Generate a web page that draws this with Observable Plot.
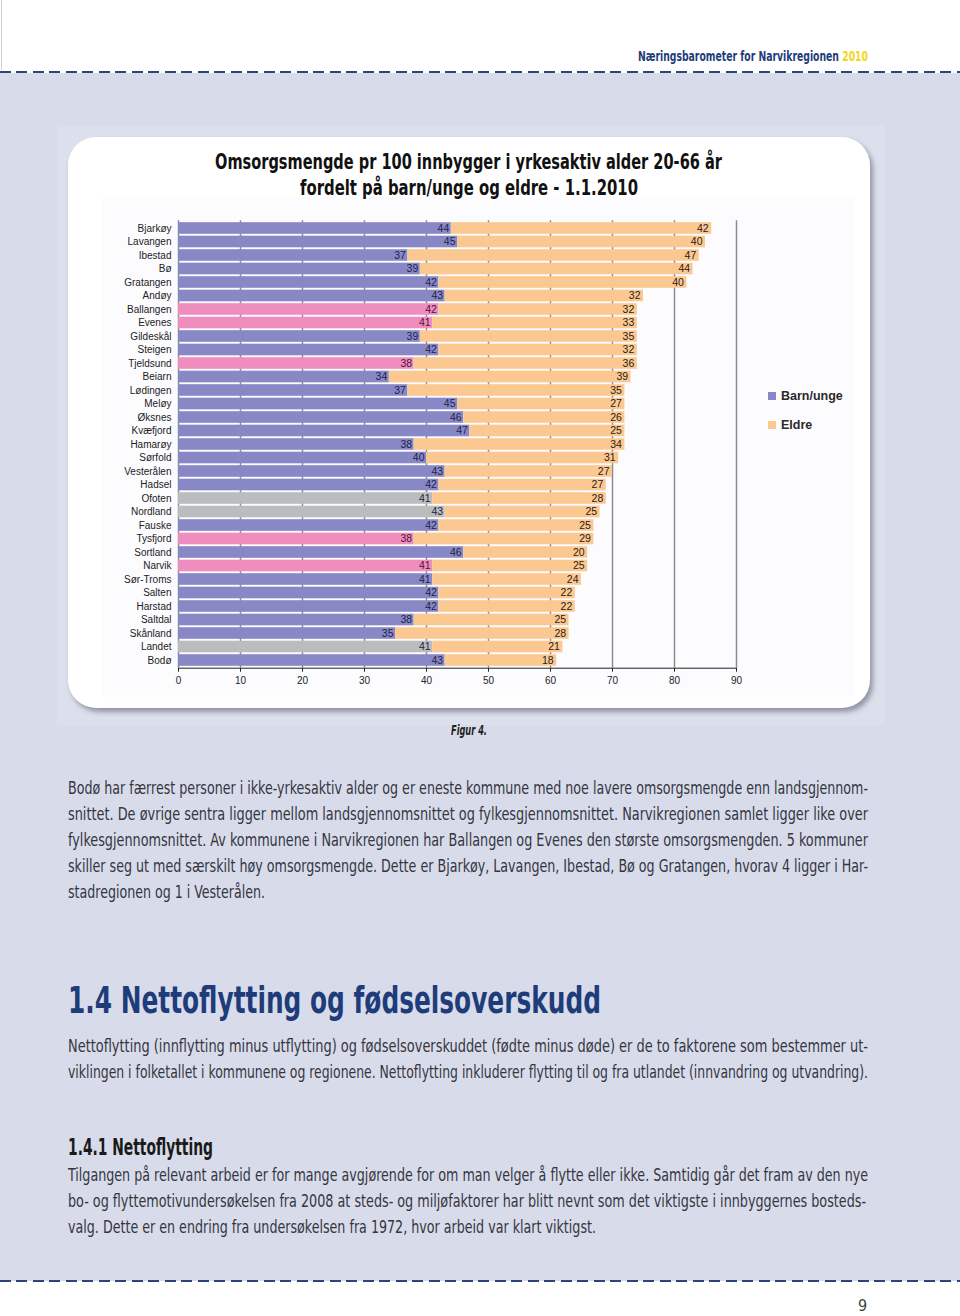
<!DOCTYPE html>
<html><head><meta charset="utf-8">
<script src="https://cdn.jsdelivr.net/npm/d3@7"></script>
<script src="https://cdn.jsdelivr.net/npm/@observablehq/plot@0.6"></script>
<style>
html,body{margin:0;padding:0}
body{width:960px;height:1316px;position:relative;background:#fff;overflow:hidden;font-family:"Liberation Sans Narrow","DejaVu Sans Condensed","Liberation Sans",sans-serif}
.t{position:absolute;white-space:nowrap;transform-origin:0 0;line-height:1}
.band{position:absolute;left:0;width:960px;top:73px;height:1208px;background:#d8dcea}
.dash{position:absolute;left:0;width:960px;height:2px;background:repeating-linear-gradient(to right,#2b4676 0 11px,transparent 11px 16.5px)}
.panel{position:absolute;left:57px;top:125px;width:828px;height:600px;background:#dcdfec}
.card{position:absolute;left:68px;top:137px;width:802px;height:571px;background:#fff;border-radius:28px;box-shadow:3px 4px 5px rgba(60,60,80,0.45)}
.plotarea{position:absolute;left:101px;top:197px;width:754px;height:500px;background:#fcfcfe}
#chart{position:absolute;left:68px;top:195px}
.leg{position:absolute;font-family:"Liberation Sans",Arial,sans-serif;font-weight:bold;font-size:12.5px;color:#2a2a2a;line-height:1}
.sw{position:absolute;width:8px;height:8px}
.p{font-size:17px;color:#35353f}
</style></head><body>
<div style="position:absolute;left:1px;top:0;width:1px;height:70px;background:#d0d0d0"></div>
<div class="t" data-w="230" style="left:638px;top:50px;font-size:13.5px;font-weight:bold;color:#1f3c7a">Næringsbarometer for Narvikregionen <span style="color:#f2d51a">2010</span></div>
<div class="band"></div>
<div class="dash" style="top:71px"></div>
<div class="dash" style="top:1280px"></div>
<div class="panel"></div>
<div class="card"></div>
<div class="plotarea"></div>
<div class="t" data-w="507" style="left:215px;top:151px;font-size:22px;font-weight:bold;color:#111">Omsorgsmengde pr 100 innbygger i yrkesaktiv alder 20-66 år</div>
<div class="t" data-w="338" style="left:300px;top:177px;font-size:22px;font-weight:bold;color:#111">fordelt på barn/unge og eldre - 1.1.2010</div>
<div id="chart"></div>
<div id="legend"></div>
<div class="t" data-w="36" style="left:451px;top:723px;font-size:14px;font-weight:bold;font-style:italic;color:#222">Figur 4.</div>

<div class="t p" data-w="800" style="left:68px;top:780px">Bodø har færrest personer i ikke-yrkesaktiv alder og er eneste kommune med noe lavere omsorgsmengde enn landsgjennom-</div>
<div class="t p" data-w="800" style="left:68px;top:806px">snittet. De øvrige sentra ligger mellom landsgjennomsnittet og fylkesgjennomsnittet. Narvikregionen samlet ligger like over</div>
<div class="t p" data-w="800" style="left:68px;top:832px">fylkesgjennomsnittet. Av kommunene i Narvikregionen har Ballangen og Evenes den største omsorgsmengden. 5 kommuner</div>
<div class="t p" data-w="800" style="left:68px;top:858px">skiller seg ut med særskilt høy omsorgsmengde. Dette er Bjarkøy, Lavangen, Ibestad, Bø og Gratangen, hvorav 4 ligger i Har-</div>
<div class="t p" data-w="197" style="left:68px;top:884px">stadregionen og 1 i Vesterålen.</div>

<div class="t" data-w="533" style="left:68px;top:981px;font-size:38px;font-weight:bold;color:#1f3c7a">1.4 Nettoflytting og fødselsoverskudd</div>
<div class="t p" data-w="800" style="left:68px;top:1038px">Nettoflytting (innflytting minus utflytting) og fødselsoverskuddet (fødte minus døde) er de to faktorene som bestemmer ut-</div>
<div class="t p" data-w="800" style="left:68px;top:1064px">viklingen i folketallet i kommunene og regionene. Nettoflytting inkluderer flytting til og fra utlandet (innvandring og utvandring).</div>

<div class="t" data-w="145" style="left:68px;top:1136px;font-size:23px;font-weight:bold;color:#1a1a1a">1.4.1 Nettoflytting</div>
<div class="t p" data-w="800" style="left:68px;top:1167px">Tilgangen på relevant arbeid er for mange avgjørende for om man velger å flytte eller ikke. Samtidig går det fram av den nye</div>
<div class="t p" data-w="798" style="left:68px;top:1193px">bo- og flyttemotivundersøkelsen fra 2008 at steds- og miljøfaktorer har blitt nevnt som det viktigste i innbyggernes bosteds-</div>
<div class="t p" data-w="528" style="left:68px;top:1219px">valg. Dette er en endring fra undersøkelsen fra 1972, hvor arbeid var klart viktigst.</div>

<div class="t" style="left:858px;top:1298px;font-size:16px;color:#444">9</div>

<script>
const kommuner = ["Bjarkøy","Lavangen","Ibestad","Bø","Gratangen","Andøy","Ballangen","Evenes","Gildeskål","Steigen","Tjeldsund","Beiarn","Lødingen","Meløy","Øksnes","Kvæfjord","Hamarøy","Sørfold","Vesterålen","Hadsel","Ofoten","Nordland","Fauske","Tysfjord","Sortland","Narvik","Sør-Troms","Salten","Harstad","Saltdal","Skånland","Landet","Bodø"];
const barnUnge = [44,45,37,39,42,43,42,41,39,42,38,34,37,45,46,47,38,40,43,42,41,43,42,38,46,41,41,42,42,38,35,41,43];
const eldre = [42,40,47,44,40,32,32,33,35,32,36,39,35,27,26,25,34,31,27,27,28,25,25,29,20,25,24,22,22,25,28,21,18];
const narvikregionen = ["Ballangen","Evenes","Tjeldsund","Tysfjord","Narvik"];
const sammenligning = ["Ofoten","Nordland","Landet"];
const xTicks = [0,10,20,30,40,50,60,70,80,90];
const seriesNames = ["Barn/unge","Eldre"];
const groupNames = ["Barn/unge","Narvikregionen","Sammenligning","Eldre"];
const groupColors = ["#8888c7","#f08dbf","#b9bdbd","#fcc891"];

const rows = kommuner.map((k, i) => ({
  k, b: barnUnge[i], e: eldre[i],
  g: narvikregionen.includes(k) ? "Narvikregionen" : sammenligning.includes(k) ? "Sammenligning" : "Barn/unge"
}));

const chart = Plot.plot({
  width: 802, height: 500,
  marginLeft: 110, marginRight: 134, marginTop: 25.3, marginBottom: 27.3,
  style: {fontFamily: "'Liberation Sans', Arial, sans-serif", fontSize: "10px", background: "transparent", color: "#222", overflow: "visible"},
  x: {domain: [0, 90], ticks: xTicks, tickSize: 4, tickPadding: 5, line: true, label: null},
  y: {domain: kommuner, padding: 0.14, round: false, tickSize: 0, tickPadding: 7, label: null},
  color: {domain: groupNames, range: groupColors},
  marks: [
    Plot.ruleX(xTicks, {stroke: "#8c8c8c", strokeWidth: 1.5}),
    Plot.barX(rows, {y: "k", x1: 0, x2: "b", fill: "g"}),
    Plot.barX(rows, {y: "k", x1: "b", x2: d => d.b + d.e, fill: () => "Eldre"}),
    Plot.text(rows, {filter: d => d.g !== "Narvikregionen", y: "k", x: "b", text: d => String(d.b), textAnchor: "end", dx: -2, fill: "#1f1f45", fontSize: 10.5}),
    Plot.text(rows, {filter: d => d.g === "Narvikregionen", y: "k", x: "b", text: d => String(d.b), textAnchor: "end", dx: -2, fill: "#4a1636", fontSize: 10.5}),
    Plot.text(rows, {y: "k", x: d => d.b + d.e, text: d => String(d.e), textAnchor: "end", dx: -3, fill: "#2b2016", fontSize: 10.5})
  ]
});
document.getElementById("chart").appendChild(chart);

// legend
const leg = document.getElementById("legend");
seriesNames.forEach((s, i) => {
  const y = 392 + i * 29;
  const sw = document.createElement("div");
  sw.className = "sw";
  sw.style.left = "768px"; sw.style.top = (y) + "px";
  sw.style.background = groupColors[groupNames.indexOf(s)];
  leg.appendChild(sw);
  const tx = document.createElement("div");
  tx.className = "leg";
  tx.style.left = "781px"; tx.style.top = (y - 2) + "px";
  tx.textContent = s;
  leg.appendChild(tx);
});

// fit text widths
document.querySelectorAll("[data-w]").forEach(el => {
  const w = +el.dataset.w;
  const nat = el.getBoundingClientRect().width;
  if (nat > 0) el.style.transform = `scaleX(${w / nat})`;
});
</script>
</body></html>
